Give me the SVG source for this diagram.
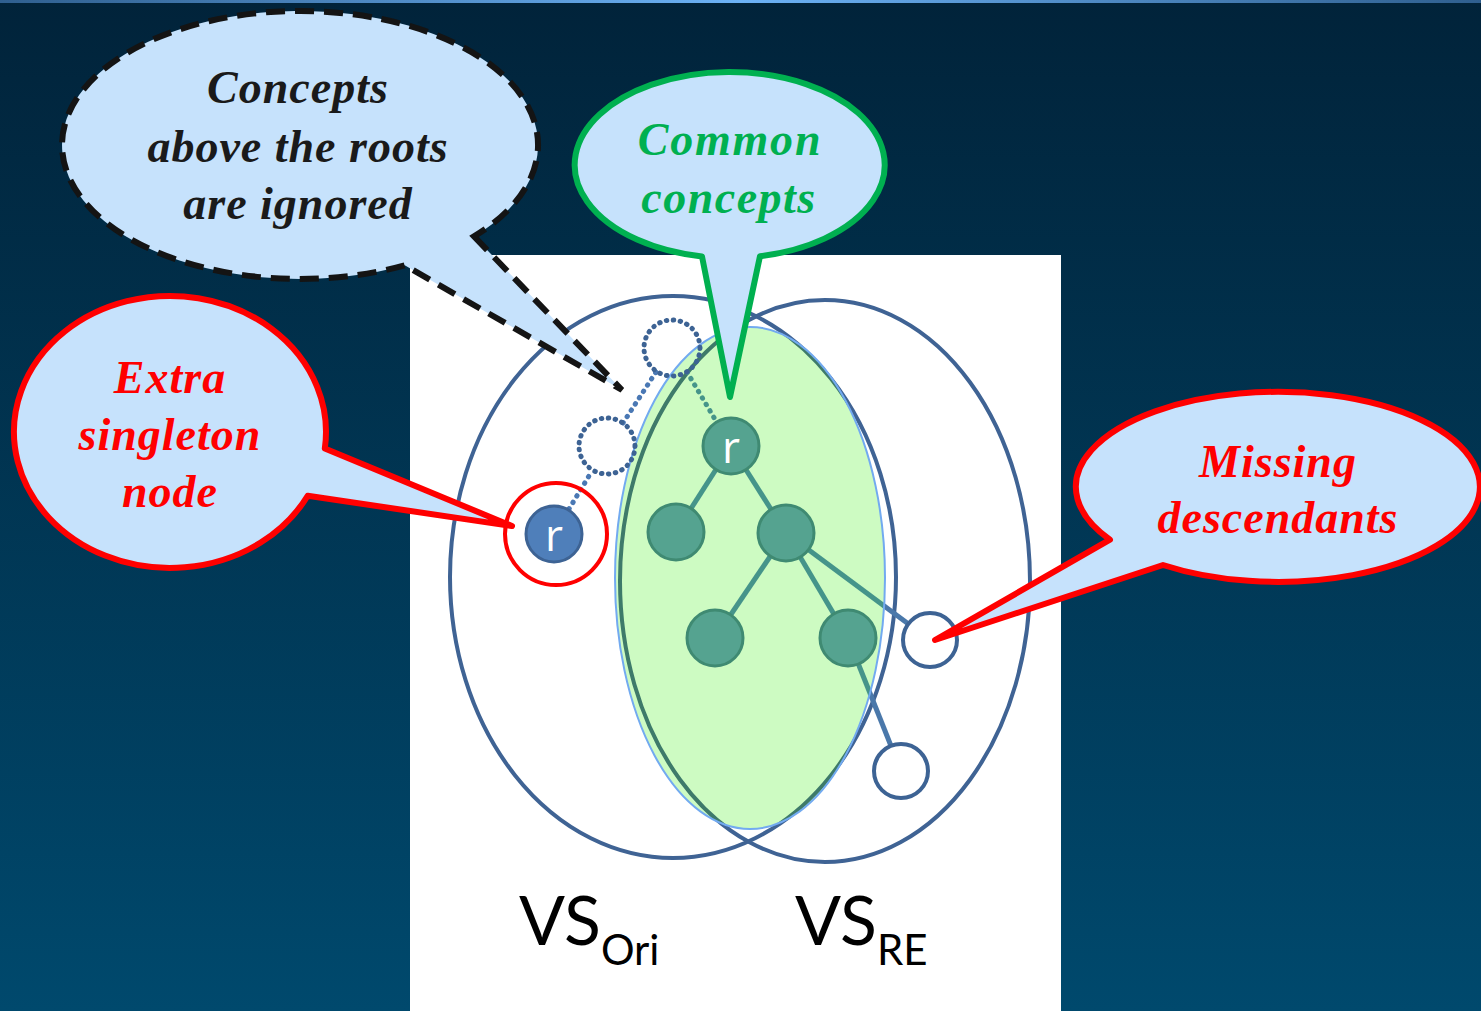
<svg xmlns="http://www.w3.org/2000/svg" width="1481" height="1011" viewBox="0 0 1481 1011">
<defs>
<linearGradient id="bg" x1="0" y1="0" x2="0" y2="1">
<stop offset="0" stop-color="#01233a"/>
<stop offset="1" stop-color="#00496d"/>
</linearGradient>
<linearGradient id="band" x1="0" y1="0" x2="1" y2="0">
<stop offset="0" stop-color="#2f5f8f"/>
<stop offset="0.5" stop-color="#6cb2f6"/>
<stop offset="1" stop-color="#2f5f8f"/>
</linearGradient>
<clipPath id="greenClip"><ellipse cx="750" cy="578" rx="135" ry="251"/></clipPath>
</defs>
<style>
.set{fill:none;stroke:#3f6394;stroke-width:4}
.setIn{fill:none;stroke:#3e7a6a;stroke-width:4}
.edge{stroke:#4a78aa;stroke-width:5;fill:none}
.edgeIn{stroke:#45948a;stroke-width:5;fill:none}
.tn{fill:#55a390;stroke:#3f8a72;stroke-width:3}
.empty{fill:#fff;stroke:#3d6394;stroke-width:4}
.dotc{fill:none;stroke:#3d6394;stroke-width:5;stroke-dasharray:0.5 6.5;stroke-linecap:round}
.dotl{fill:none;stroke:#4a78b4;stroke-width:5;stroke-dasharray:0.5 7;stroke-linecap:round}
.rl{font-family:"Open Sans",sans-serif;font-size:44px;fill:#fff;text-anchor:middle}
.vs{font-family:Lato,"Open Sans",sans-serif;fill:#000}
.ct{font-family:"Liberation Serif","Times New Roman",serif;font-weight:bold;font-style:italic;font-size:46px;text-anchor:middle;letter-spacing:1px}
.bub{fill:#c6e2fc}
</style>
<rect x="0" y="0" width="1481" height="1011" fill="url(#bg)"/>
<rect x="0" y="0" width="1481" height="3" fill="url(#band)"/>
<rect x="410" y="255" width="651" height="756" fill="#fff"/>

<g id="vs-ori"><ellipse class="set" cx="673" cy="577" rx="223" ry="281"/></g>
<g id="vs-re"><ellipse class="set" cx="825" cy="581" rx="205" ry="281"/></g>

<g id="connectors">
<line class="edge" x1="786" y1="533" x2="930" y2="640"/>
<line class="edge" x1="848" y1="638" x2="901" y2="771"/>
<line class="dotl" x1="569" y1="509" x2="592" y2="471"/>
<line class="dotl" x1="623" y1="423" x2="656" y2="372"/>
</g>

<g id="common-area">
<ellipse cx="750" cy="578" rx="135" ry="251" fill="#cdfbc2"/>
<g clip-path="url(#greenClip)">
<ellipse class="setIn" cx="673" cy="577" rx="223" ry="281"/>
<ellipse class="setIn" cx="825" cy="581" rx="205" ry="281"/>
<line class="edgeIn" x1="786" y1="533" x2="930" y2="640"/>
<line class="edgeIn" x1="848" y1="638" x2="901" y2="771"/>
</g>
<ellipse cx="750" cy="578" rx="135" ry="251" fill="none" stroke="#72aaf0" stroke-width="2"/>
</g>

<g id="tree-edges">
<line class="edgeIn" x1="731" y1="446" x2="676" y2="532"/>
<line class="edgeIn" x1="731" y1="446" x2="786" y2="533"/>
<line class="edgeIn" x1="786" y1="533" x2="715" y2="638"/>
<line class="edgeIn" x1="786" y1="533" x2="848" y2="638"/>
<line class="dotl" x1="687" y1="372" x2="716" y2="421" style="stroke:#45948a"/>
</g>

<g id="dotted-upper"><circle class="dotc" cx="672" cy="348" r="28"/></g>
<g id="dotted-lower"><circle class="dotc" cx="607" cy="446" r="28"/></g>

<g id="root"><circle class="tn" cx="731" cy="446" r="28"/><text class="rl" x="731" y="463">r</text></g>
<g id="child-left"><circle class="tn" cx="676" cy="532" r="28"/></g>
<g id="child-right"><circle class="tn" cx="786" cy="533" r="28"/></g>
<g id="gchild-left"><circle class="tn" cx="715" cy="638" r="28"/></g>
<g id="gchild-right"><circle class="tn" cx="848" cy="638" r="28"/></g>
<g id="missing-1"><circle class="empty" cx="930" cy="640" r="27"/></g>
<g id="missing-2"><circle class="empty" cx="901" cy="771" r="27"/></g>

<g id="singleton">
<circle cx="556" cy="534" r="51" fill="none" stroke="#ff0000" stroke-width="4"/>
<circle cx="554" cy="534" r="28" fill="#4f7fba" stroke="#3d6394" stroke-width="3"/>
<text class="rl" x="554" y="551">r</text>
</g>

<g id="labels">
<text class="vs" x="519" y="945" font-size="68">VS<tspan font-size="42" dy="20">Ori</tspan></text>
<text class="vs" x="795" y="945" font-size="68">VS<tspan font-size="42" dy="20">RE</tspan></text>
</g>

<g id="callout-ignored">
<path class="bub" d="M 474,236.4 L 622,390 L 404.7,265.3 A 238 134 0 1 1 474 236.4 Z" stroke="#141414" stroke-width="6" stroke-dasharray="19 10"/>
<text class="ct" fill="#1a1a1a" x="298" y="103">Concepts</text>
<text class="ct" fill="#1a1a1a" x="298" y="162">above the roots</text>
<text class="ct" fill="#1a1a1a" x="298" y="219">are ignored</text>
</g>

<g id="callout-common">
<path class="bub" d="M 760,256.2 L 730,397 L 702,256.5 A 155 93 0 1 1 760 256.2 Z" stroke="#00b050" stroke-width="6" stroke-linejoin="round"/>
<text class="ct" fill="#00b050" x="730" y="155" style="letter-spacing:1.8px">Common</text>
<text class="ct" fill="#00b050" x="729" y="213" style="letter-spacing:1.5px">concepts</text>
</g>

<g id="callout-extra">
<path class="bub" d="M 324.8,448.6 L 512,526 L 307.7,495.8 A 156 136 0 1 1 324.8 448.6 Z" stroke="#ff0000" stroke-width="6" stroke-linejoin="round"/>
<text class="ct" fill="#ff0000" x="170" y="393">Extra</text>
<text class="ct" fill="#ff0000" x="170" y="450">singleton</text>
<text class="ct" fill="#ff0000" x="170" y="507">node</text>
</g>

<g id="callout-missing">
<path class="bub" d="M 1163,565 L 935,640 L 1110,539.7 A 202 95 0 1 1 1163 565 Z" stroke="#ff0000" stroke-width="6" stroke-linejoin="round"/>
<text class="ct" fill="#ff0000" x="1278" y="477">Missing</text>
<text class="ct" fill="#ff0000" x="1278" y="533">descendants</text>
</g>
</svg>
